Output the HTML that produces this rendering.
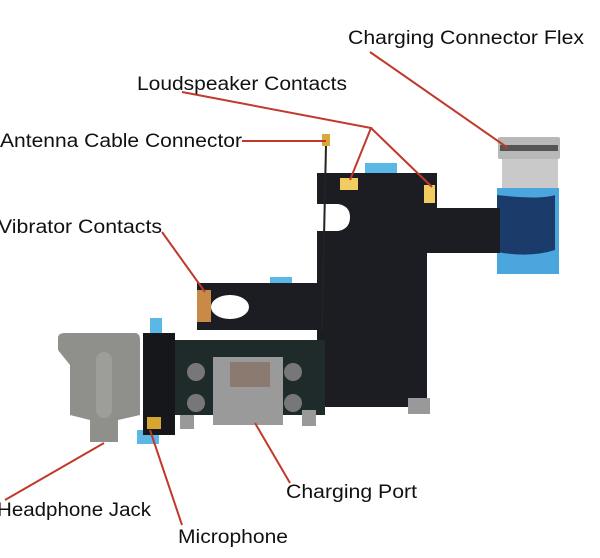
<!DOCTYPE html>
<html><head><style>html,body{margin:0;padding:0;background:#fff}svg{display:block}</style></head>
<body>
<svg width="600" height="558" viewBox="0 0 600 558" xmlns="http://www.w3.org/2000/svg" font-family="Liberation Sans, DejaVu Sans, sans-serif" font-size="19" fill="#111">
<!-- flex connector -->
<rect x="498" y="137" width="62" height="22" fill="#b8b8b8" rx="2"/>
<rect x="500" y="145" width="58" height="6" fill="#555"/>
<rect x="502" y="159" width="56" height="32" fill="#c9c9c9"/>
<rect x="497" y="188" width="62" height="86" fill="#4aa6dc"/>
<path d="M497 195 Q540 200 555 195 L555 250 Q530 258 497 252Z" fill="#1b3c6b"/>
<!-- blue tabs -->
<rect x="365" y="163" width="32" height="15" fill="#5bb7e6"/>
<rect x="270" y="277" width="22" height="10" fill="#5bb7e6"/>
<rect x="150" y="318" width="12" height="22" fill="#5bb7e6"/>
<rect x="137" y="430" width="22" height="14" fill="#5bb7e6"/>
<!-- main black flex -->
<path d="M317 173 L437 173 L437 208 L500 208 L500 253 L427 253 L427 407 L317 407 L317 330 L197 330 L197 283 L317 283 Z" fill="#1c1d22"/>
<ellipse cx="230" cy="307" rx="19" ry="12" fill="#fff"/>
<path d="M317 204 L338 204 Q350 206 350 217 Q350 229 338 231 L317 231 Z" fill="#fff"/>
<rect x="197" y="290" width="14" height="32" fill="#c98a48"/>
<rect x="340" y="178" width="18" height="12" fill="#f2cc60"/>
<rect x="424" y="185" width="11" height="18" fill="#f2cc60"/>
<line x1="326" y1="145" x2="322" y2="330" stroke="#222" stroke-width="2"/>
<rect x="322" y="134" width="8" height="12" fill="#d9a83a"/>
<!-- lower PCB -->
<rect x="143" y="333" width="32" height="102" fill="#15171b"/>
<rect x="175" y="340" width="150" height="75" fill="#1f2a2a"/>
<rect x="213" y="357" width="70" height="68" fill="#9a9a9a"/>
<rect x="230" y="362" width="40" height="25" fill="#8a7a70"/>
<circle cx="196" cy="372" r="9" fill="#777"/><circle cx="196" cy="403" r="9" fill="#777"/>
<circle cx="293" cy="372" r="9" fill="#777"/><circle cx="293" cy="403" r="9" fill="#777"/>
<rect x="180" y="415" width="14" height="14" fill="#999"/>
<rect x="302" y="410" width="14" height="16" fill="#999"/>
<rect x="408" y="398" width="22" height="16" fill="#999"/>
<rect x="147" y="417" width="14" height="12" fill="#d6a632"/>
<!-- headphone jack -->
<path d="M58 338 Q58 333 65 333 L135 333 Q140 333 140 340 L140 415 L118 420 L118 442 L90 442 L90 420 L70 415 L70 365 L58 350Z" fill="#8f8f8c"/>
<rect x="96" y="352" width="16" height="66" rx="8" fill="#9d9d9a"/>
<!-- connector lines -->
<g stroke="#c0392b" stroke-width="2" fill="none">
<line x1="370" y1="52" x2="508" y2="148"/>
<polyline points="182,92 371,128 350,180"/>
<line x1="371" y1="128" x2="432" y2="187"/>
<line x1="242" y1="141" x2="326" y2="141"/>
<line x1="162" y1="232" x2="205" y2="292"/>
<line x1="5" y1="500" x2="104" y2="443"/>
<line x1="182" y1="525" x2="150" y2="430"/>
<line x1="255" y1="423" x2="290" y2="483"/>
</g>
<!-- labels -->
<text x="348" y="44" textLength="236" lengthAdjust="spacingAndGlyphs">Charging Connector Flex</text>
<text x="137" y="90" textLength="210" lengthAdjust="spacingAndGlyphs">Loudspeaker Contacts</text>
<text x="0" y="147" textLength="242" lengthAdjust="spacingAndGlyphs">Antenna Cable Connector</text>
<text x="-2" y="233" textLength="164" lengthAdjust="spacingAndGlyphs">Vibrator Contacts</text>
<text x="-3" y="516" textLength="154" lengthAdjust="spacingAndGlyphs">Headphone Jack</text>
<text x="178" y="543" textLength="110" lengthAdjust="spacingAndGlyphs">Microphone</text>
<text x="286" y="498" textLength="131" lengthAdjust="spacingAndGlyphs">Charging Port</text>
</svg>
</body></html>
